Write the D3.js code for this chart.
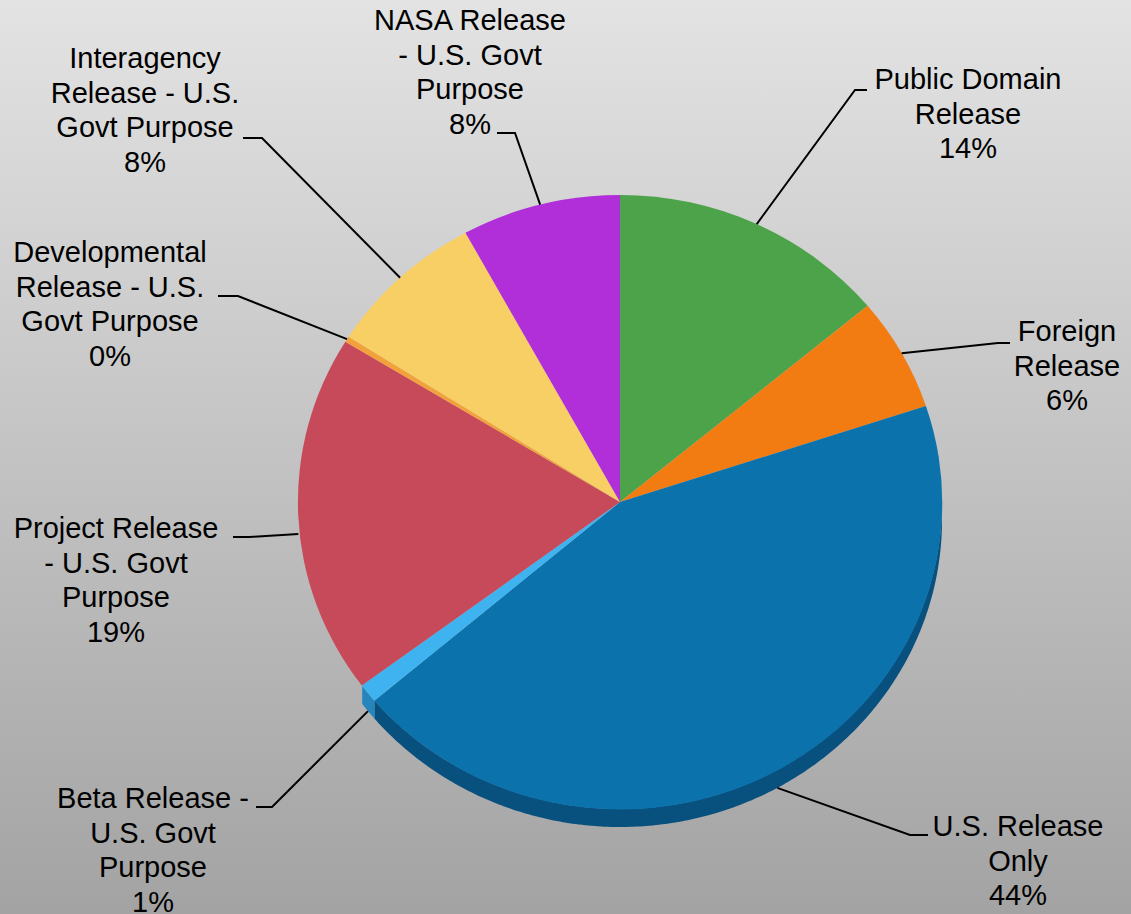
<!DOCTYPE html>
<html>
<head>
<meta charset="utf-8">
<script src="https://cdn.jsdelivr.net/npm/d3@7"></script>
<style>
  html, body { margin: 0; padding: 0; }
  body { width: 1131px; height: 914px; overflow: hidden; }
  svg { display: block; }
</style>
</head>
<body>
<svg id="chart" width="1131" height="914"></svg>
<script>
// Release categories, in clockwise order from 12 o'clock
const categories = [
  "Public Domain Release",
  "Foreign Release",
  "U.S. Release Only",
  "Beta Release - U.S. Govt Purpose",
  "Project Release - U.S. Govt Purpose",
  "Developmental Release - U.S. Govt Purpose",
  "Interagency Release - U.S. Govt Purpose",
  "NASA Release - U.S. Govt Purpose"
];
// Share of releases, percent
const shares = [14, 6, 44, 1, 19, 0.3, 8, 8];
// Label text broken into lines (percentage appended below)
const labelLines = [
  ["Public Domain", "Release"],
  ["Foreign", "Release"],
  ["U.S. Release", "Only"],
  ["Beta Release -", "U.S. Govt", "Purpose"],
  ["Project Release", "- U.S. Govt", "Purpose"],
  ["Developmental", "Release - U.S.", "Govt Purpose"],
  ["Interagency", "Release - U.S.", "Govt Purpose"],
  ["NASA Release", "- U.S. Govt", "Purpose"]
];
const topColors  = ["#4ca34a", "#f27c12", "#0b72ac", "#3eb3f0", "#c74a5b", "#f3a13a", "#f7cf64", "#b02fd9"];
const sideColors = ["#35773a", "#b85a0a", "#08507e", "#2686bc", "#913543", "#b87422", "#b8994a", "#7f20a0"];

// Layout: label text centre / first baseline, leader elbow and tail
const labelLayout = [
  { x: 968,  y: 89,  ex: 855, ey: 90,  hx: 867 },
  { x: 1067, y: 341, ex: 998, ey: 343, hx: 1010 },
  { x: 1018, y: 836, ex: 910, ey: 835, hx: 928 },
  { x: 153,  y: 808, ex: 272, ey: 807, hx: 256 },
  { x: 116,  y: 538, ex: 250, ey: 537, hx: 233 },
  { x: 110,  y: 262, ex: 238, ey: 296, hx: 218 },
  { x: 145,  y: 68,  ex: 262, ey: 138, hx: 243 },
  { x: 470,  y: 30,  ex: 515, ey: 133, hx: 497 }
];

const W = 1131, H = 914;
const cx = 620, cy = 502, rx = 322, ry = 307, depth = 18;
const lineH = 34.7;
// angular span over which the disc's side wall shows
const wallFrom = Math.PI / 2, wallTo = 4.07;

const svg = d3.select("#chart");

// Background gradient
const defs = svg.append("defs");
const bg = defs.append("linearGradient").attr("id", "bg")
  .attr("x1", 0).attr("y1", 0).attr("x2", 0).attr("y2", 1);
bg.append("stop").attr("offset", "0%").attr("stop-color", "#e3e3e3");
bg.append("stop").attr("offset", "100%").attr("stop-color", "#a3a3a3");
svg.append("rect").attr("width", W).attr("height", H).attr("fill", "url(#bg)");

const data = categories.map((c, i) => ({ name: c, value: shares[i], i }));
const pie = d3.pie().sort(null).value(d => d.value);
const arcs = pie(data);

// point on the elliptical rim for a pie angle (0 = top, clockwise)
const rim = (a, dy = 0) => [cx + rx * Math.sin(a), cy - ry * Math.cos(a) + dy];

// Side wall of the disc along the front edge
const side = svg.append("g");
arcs.forEach(a => {
  const a0 = Math.max(a.startAngle, wallFrom);
  const a1 = Math.min(a.endAngle, wallTo);
  if (a1 <= a0) return;
  const n = Math.max(4, Math.ceil((a1 - a0) / 0.01));
  const angs = d3.range(n + 1).map(k => a0 + (a1 - a0) * k / n);
  const pts = angs.map(t => rim(t)).concat(angs.slice().reverse().map(t => rim(t, depth)));
  side.append("path")
    .attr("d", d3.line()(pts) + "Z")
    .attr("fill", sideColors[a.data.i]);
});

// Top face of the pie
const arc = d3.arc().innerRadius(0).outerRadius(1);
svg.append("g")
  .attr("transform", `translate(${cx},${cy}) scale(${rx},${ry})`)
  .selectAll("path")
  .data(arcs)
  .join("path")
  .attr("d", arc)
  .attr("fill", d => topColors[d.data.i]);

// Leader lines
const fmt = v => Math.round(v) + "%";
const leaders = svg.append("g").attr("fill", "none").attr("stroke", "#000").attr("stroke-width", 2);
arcs.forEach(a => {
  const L = labelLayout[a.data.i];
  const mid = (a.startAngle + a.endAngle) / 2;
  const p = rim(mid, Math.cos(mid) < 0 ? depth : 0);
  leaders.append("path").attr("d", d3.line()([p, [L.ex, L.ey], [L.hx, L.ey]]));
});

// Labels
const labels = svg.append("g")
  .attr("font-family", "'Liberation Sans', Arial, sans-serif")
  .attr("font-size", 29)
  .attr("fill", "#000")
  .attr("text-anchor", "middle");
arcs.forEach(a => {
  const L = labelLayout[a.data.i];
  const lines = labelLines[a.data.i].concat([fmt(a.data.value)]);
  const t = labels.append("text").attr("x", L.x).attr("y", L.y);
  lines.forEach((s, k) => {
    t.append("tspan").attr("x", L.x).attr("y", L.y + k * lineH).text(s);
  });
});
</script>
</body>
</html>
